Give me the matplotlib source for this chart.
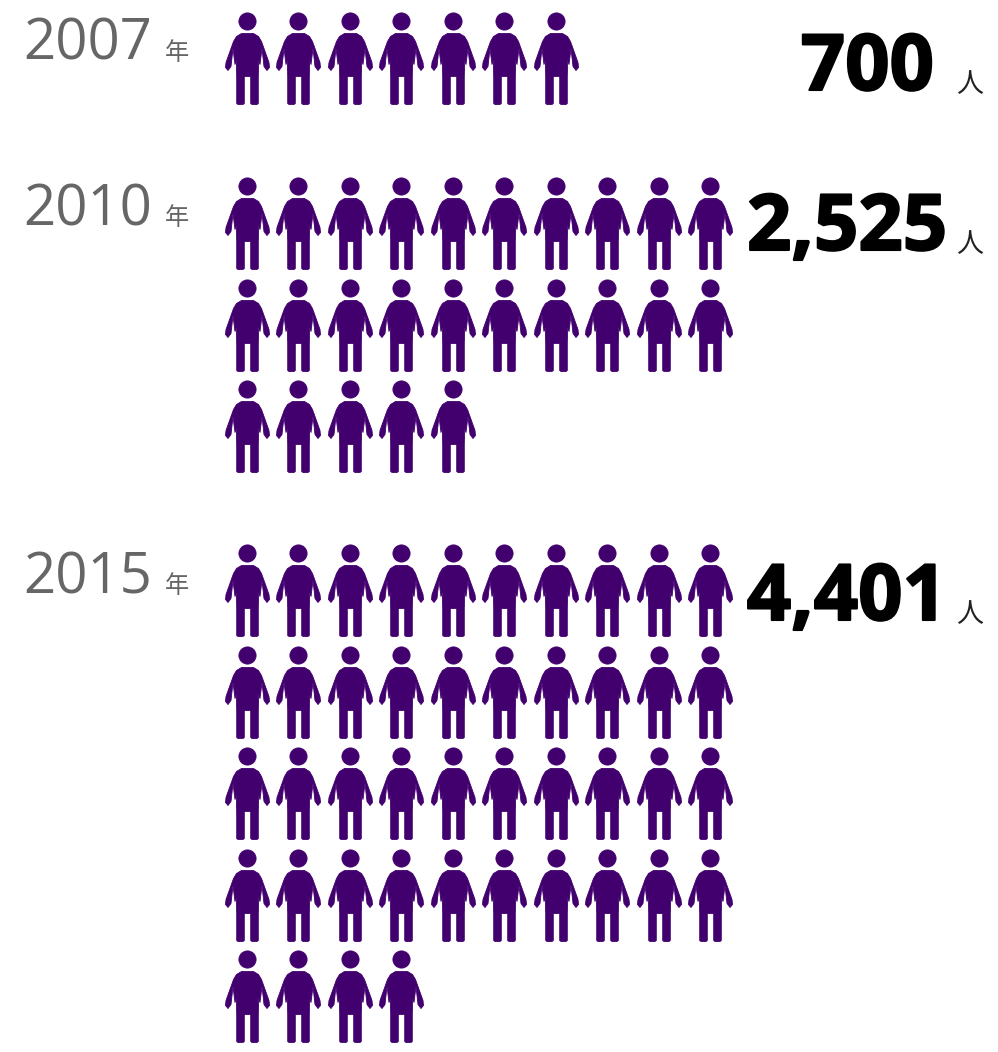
import matplotlib
matplotlib.use('Agg')
import matplotlib.pyplot as plt
import matplotlib.patheffects as pe
from matplotlib.markers import MarkerStyle
from matplotlib.path import Path
import numpy as np

YEARS = ['2007', '2010', '2015']
VALUES = [700, 2525, 4401]
VALUE_LABELS = ['700', '2,525', '4,401']
PEOPLE = [7, 25, 44]

PER_ROW = 10
PURPLE = '#42006f'
GREY = '#666666'
LATIN = ['Open Sans', 'Noto Sans CJK JP']
CJK = ['Noto Sans CJK JP', 'DejaVu Sans']

# pixel layout: first icon centre y, year baseline, value baseline, value right edge
GROUP_Y = [58, 223, 590]
YEAR_BASE = [60, 225, 593]
VALUE_BASE = [90, 250, 620]
VALUE_RIGHT = [934, 947, 947]
X0, DX, DY = 247, 51.5, 101.5
ICON_PT = 92 * 0.72


def person_marker() -> MarkerStyle:
    head = Path.circle((0, 37), 8.6)
    # half outline of body and leg, mirrored below
    right = [(3.3, -46), (3.3, -18), (9.5, -18) ]
    body = [
        (-3.2, -18), (-3.2, -45), (-4.5, -46), (-9.5, -46), (-10.8, -45),
        (-10.8, -18), (-11.2, -2), (-12.5, -6), (-14.5, 10), (-16.5, -8),
        (-19.5, -12), (-22, -9), (-21.5, -4), (-14, 17), (-11, 22), (-6, 25),
        (6, 25), (11, 22), (14, 17), (21.5, -4), (22, -9), (19.5, -12),
        (16.5, -8), (14.5, 10), (12.5, -6), (11.2, -2), (10.8, -18),
        (10.8, -45), (9.5, -46), (4.5, -46), (3.2, -45), (3.2, -18),
        (-3.2, -18),
    ]
    del right
    outline = Path(body, closed=True)
    return MarkerStyle(Path.make_compound_path(head, outline), joinstyle='round')


def main() -> None:
    fig = plt.figure(figsize=(9.98, 10.52), dpi=100, facecolor='white')
    ax = fig.add_axes([0, 0, 1, 1])
    ax.set_xlim(0, 998)
    ax.set_ylim(1052, 0)
    ax.axis('off')

    marker = person_marker()
    for i, year in enumerate(YEARS):
        idx = np.arange(PEOPLE[i])
        xs = X0 + (idx % PER_ROW) * DX
        ys = GROUP_Y[i] + (idx // PER_ROW) * DY
        ax.scatter(xs, ys, s=ICON_PT ** 2, marker=marker, color=PURPLE,
                   linewidths=0.6, edgecolors=PURPLE)

        ax.text(23, YEAR_BASE[i], year, family=LATIN, fontsize=40.5, color=GREY,
                va='baseline', ha='left')
        ax.text(165, YEAR_BASE[i], '年', family=CJK, fontsize=17.5, color=GREY,
                va='baseline', ha='left')

        ax.text(VALUE_RIGHT[i], VALUE_BASE[i], VALUE_LABELS[i], family=LATIN,
                weight='bold', fontsize=56, color='black', va='baseline', ha='right',
                path_effects=[pe.withStroke(linewidth=1.5, foreground='black')])
        ax.text(956, VALUE_BASE[i] + 2, '人', family=CJK, fontsize=19.5, color='#222222',
                va='baseline', ha='left')

    fig.savefig('out.png', dpi=100)


if __name__ == '__main__':
    main()
